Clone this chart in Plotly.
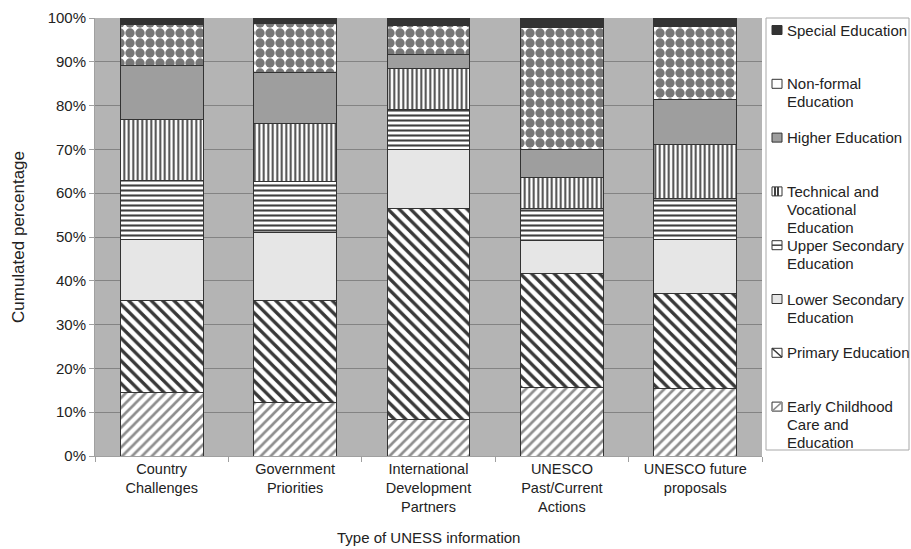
import plotly.graph_objects as go

categories = [
    "Country<br>Challenges",
    "Government<br>Priorities",
    "International<br>Development<br>Partners",
    "UNESCO<br>Past/Current<br>Actions",
    "UNESCO future<br>proposals",
]

# Share of each education level (%), stacked bottom to top
early_childhood = [14.4, 12.3, 8.4, 15.7, 15.3]
primary = [21.2, 23.1, 48.2, 26.0, 21.8]
lower_secondary = [13.9, 15.6, 13.3, 7.6, 12.4]
upper_secondary = [13.4, 11.6, 9.3, 7.1, 9.3]
technical_vocational = [14.0, 13.4, 9.2, 7.1, 12.4]
higher = [12.2, 11.6, 3.3, 6.4, 10.1]
non_formal = [9.5, 11.2, 6.7, 27.9, 16.7]
special = [1.4, 1.2, 1.6, 2.2, 2.0]

# (legend lines, values, fill pattern, legend swatch style)
series = [
    (["Early Childhood", "Care and", "Education"], early_childhood,
     dict(shape="/", fgcolor="#8e8e8e", bgcolor="white", size=7, solidity=0.38), "slash"),
    (["Primary Education"], primary,
     dict(shape="\\", fgcolor="#383838", bgcolor="white", size=8, solidity=0.42), "backslash"),
    (["Lower Secondary", "Education"], lower_secondary,
     dict(shape="", fgcolor="#e6e6e6", bgcolor="#e6e6e6"), "solid"),
    (["Upper Secondary", "Education"], upper_secondary,
     dict(shape="-", fgcolor="#404040", bgcolor="white", size=5, solidity=0.42), "hline"),
    (["Technical and", "Vocational", "Education"], technical_vocational,
     dict(shape="|", fgcolor="#404040", bgcolor="white", size=4.5, solidity=0.42), "vline"),
    (["Higher Education"], higher,
     dict(shape="", fgcolor="#9e9e9e", bgcolor="#9e9e9e"), "solid"),
    (["Non-formal", "Education"], non_formal,
     dict(shape=".", fgcolor="#777777", bgcolor="white", size=10, solidity=0.7), "solid"),
    (["Special Education"], special,
     dict(shape="", fgcolor="#333333", bgcolor="#333333"), "solid"),
]

W, H = 911, 549
M_L, M_R, M_T, M_B = 95, 149, 18, 93
PLOT_W = W - M_L - M_R
PLOT_H = H - M_T - M_B


def px_x(px):
    return (px - M_L) / PLOT_W


def px_y(py):
    return (H - M_B - py) / PLOT_H


fig = go.Figure()
for lines, values, pattern, _ in series:
    fig.add_trace(go.Bar(
        x=categories,
        y=values,
        name=" ".join(lines),
        width=0.62,
        showlegend=False,
        marker=dict(
            color=pattern["bgcolor"] if pattern["shape"] == "" else pattern["fgcolor"],
            line=dict(color="#333333", width=1),
            pattern=dict(fillmode="replace", **pattern),
        ),
    ))

font_family = "Liberation Sans, Arial, sans-serif"
text_color = "#222222"

# Legend panel on the right: frame, swatches and labels
shapes = [dict(
    type="rect", xref="paper", yref="paper",
    x0=px_x(766), x1=px_x(909), y0=px_y(450), y1=px_y(18),
    line=dict(color="#a8a8a8", width=1), fillcolor="white", layer="below",
)]
annotations = []
ITEM_TOP = 30
ITEM_STEP = 53.8
LINE_STEP = 18
for i, (lines, values, pattern, swatch) in enumerate(reversed(series)):
    cy = ITEM_TOP + i * ITEM_STEP
    sx0, sx1, sy0, sy1 = 772, 782, cy - 4.5, cy + 4.5
    fill = "white" if pattern["shape"] else pattern["bgcolor"]
    shapes.append(dict(
        type="rect", xref="paper", yref="paper",
        x0=px_x(sx0), x1=px_x(sx1), y0=px_y(sy1), y1=px_y(sy0),
        line=dict(color="#333333", width=1), fillcolor=fill,
    ))
    strokes = []
    if swatch == "vline":
        strokes = [((sx0 + 3, sy0), (sx0 + 3, sy1)), ((sx0 + 6, sy0), (sx0 + 6, sy1))]
    elif swatch == "hline":
        strokes = [((sx0, cy), (sx1, cy))]
    elif swatch == "backslash":
        strokes = [((sx0, sy0), (sx1, sy1))]
    elif swatch == "slash":
        strokes = [((sx0, sy1), (sx1, sy0))]
    for (ax, ay), (bx, by) in strokes:
        shapes.append(dict(
            type="line", xref="paper", yref="paper",
            x0=px_x(ax), x1=px_x(bx), y0=px_y(ay), y1=px_y(by),
            line=dict(color=pattern["fgcolor"], width=2 if swatch == "vline" else 1.5),
        ))
    for j, line in enumerate(lines):
        annotations.append(dict(
            xref="paper", yref="paper",
            x=px_x(785), y=px_y(cy + j * LINE_STEP),
            xanchor="left", yanchor="middle", align="left",
            text=line, showarrow=False,
            font=dict(family=font_family, size=15, color=text_color),
        ))

# Axis titles
annotations.append(dict(
    xref="paper", yref="paper", x=0.5, y=px_y(537),
    xanchor="center", yanchor="middle", showarrow=False,
    text="Type of UNESS information",
    font=dict(family=font_family, size=15, color=text_color),
))
annotations.append(dict(
    xref="paper", yref="paper", x=px_x(18), y=0.5,
    xanchor="center", yanchor="middle", showarrow=False, textangle=-90,
    text="Cumulated percentage",
    font=dict(family=font_family, size=17, color=text_color),
))

fig.update_layout(
    barmode="stack",
    width=W,
    height=H,
    margin=dict(l=M_L, r=M_R, t=M_T, b=M_B, autoexpand=False),
    paper_bgcolor="white",
    plot_bgcolor="#b4b4b4",
    font=dict(family=font_family, size=15, color=text_color),
    showlegend=False,
    shapes=shapes,
    annotations=annotations,
    xaxis=dict(
        showgrid=False,
        showline=True,
        linecolor="#a0a0a0",
        ticks="outside",
        tickson="boundaries",
        ticklen=5,
        tickcolor="#a0a0a0",
        tickfont=dict(family=font_family, size=14.5, color=text_color),
    ),
    yaxis=dict(
        range=[0, 100],
        dtick=10,
        ticksuffix="%",
        showgrid=True,
        gridcolor="#838383",
        gridwidth=1,
        showline=True,
        linecolor="#a0a0a0",
        ticks="outside",
        ticklen=5,
        tickcolor="#a0a0a0",
        tickfont=dict(family=font_family, size=15, color=text_color),
        zeroline=False,
    ),
)

fig.write_html("out.html")
